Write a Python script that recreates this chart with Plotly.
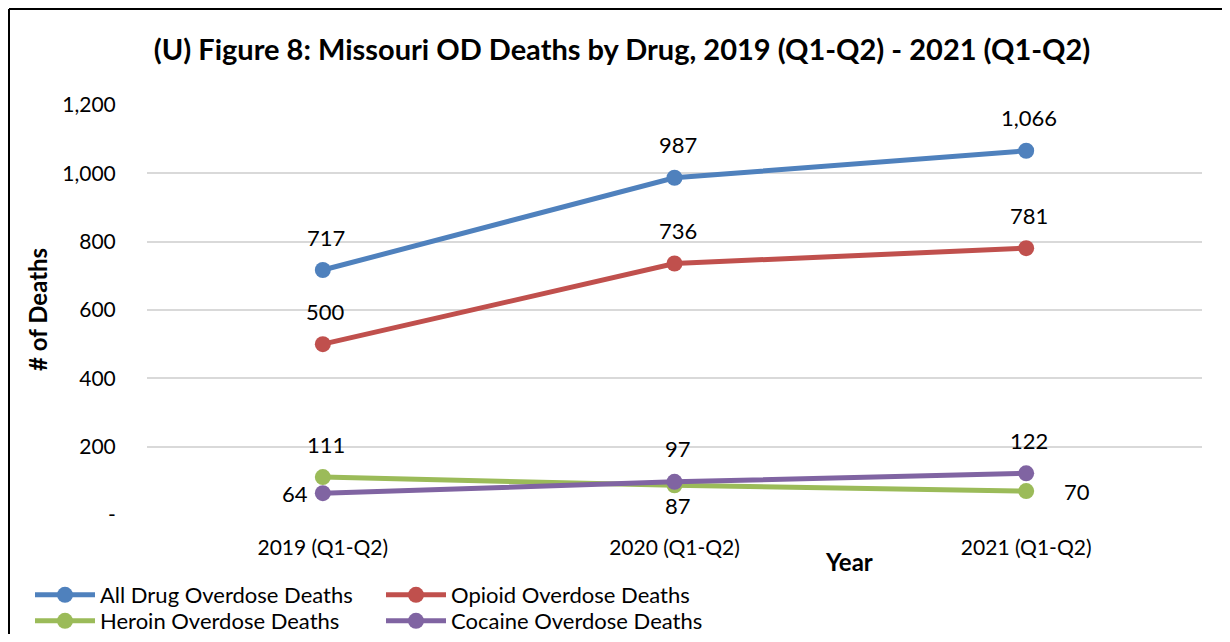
import plotly.graph_objects as go

categories = ["2019 (Q1-Q2)", "2020 (Q1-Q2)", "2021 (Q1-Q2)"]
all_drug = [717, 987, 1066]
opioid = [500, 736, 781]
heroin = [111, 87, 70]
cocaine = [64, 97, 122]

series_names = ["All Drug Overdose Deaths", "Opioid Overdose Deaths",
                "Heroin Overdose Deaths", "Cocaine Overdose Deaths"]
series_values = [all_drug, opioid, heroin, cocaine]
colors = ["#4F81BD", "#C0504D", "#9BBB59", "#8064A2"]
legends = ["legend", "legend", "legend2", "legend2"]
# label placement per point
label_pos = [["above", "above", "above"],
             ["above", "above", "above"],
             ["above", "below", "right"],
             ["left", "above", "above"]]

ytick_vals = [0, 200, 400, 600, 800, 1000, 1200]
ytick_text = ["-", "200", "400", "600", "800", "1,000", "1,200"]

FONT = "Lato"
W, H = 1214, 626
L, R, T, B = 139, 20, 97, 119
pw, ph = W - L - R, H - T - B

def px_x(p):
    return (p - L) / pw

def px_y(p):
    return (H - B - p) / ph

fig = go.Figure()
for i in range(4):
    fig.add_trace(go.Scatter(
        x=categories, y=series_values[i], name=series_names[i],
        mode="lines+markers",
        line=dict(color=colors[i], width=5),
        marker=dict(color=colors[i], size=16),
        legend=legends[i],
    ))

annotations = []
shift = {"above": (0, 33), "below": (0, -20), "left": (-31, 0), "right": (48, 0)}
for i in range(4):
    for j, v in enumerate(series_values[i]):
        dx, dy = shift[label_pos[i][j]]
        annotations.append(dict(
            x=categories[j], y=v, xref="x", yref="y", text=f"{v:,}",
            showarrow=False, xshift=dx + 3, yshift=dy,
            xanchor="center", yanchor="middle",
            font=dict(family=FONT, size=22, color="#000000"),
        ))

annotations.append(dict(text="<b># of Deaths</b>", x=px_x(29), y=px_y(302),
                        xref="paper", yref="paper", showarrow=False, textangle=-90,
                        xanchor="center", yanchor="middle",
                        font=dict(family=FONT, size=24, color="#000000")))
annotations.append(dict(text="<b>Year</b>", x=px_x(841), y=px_y(553),
                        xref="paper", yref="paper", showarrow=False,
                        xanchor="center", yanchor="middle",
                        font=dict(family=FONT, size=24, color="#000000")))

shapes = [
    dict(type="line", xref="paper", yref="paper", x0=px_x(1), x1=px_x(1),
         y0=px_y(1), y1=px_y(700), line=dict(color="#000000", width=2)),
    dict(type="line", xref="paper", yref="paper", x0=px_x(1), x1=px_x(1300),
         y0=px_y(1), y1=px_y(1), line=dict(color="#000000", width=2)),
]

fig.update_layout(
    width=W, height=H,
    margin=dict(l=L, r=R, t=T, b=B, autoexpand=False),
    paper_bgcolor="#FFFFFF", plot_bgcolor="#FFFFFF",
    font=dict(family=FONT, size=21, color="#000000"),
    title=dict(text="<b>(U) Figure 8: Missouri OD Deaths by Drug, 2019 (Q1-Q2) - 2021 (Q1-Q2)</b>",
               x=614 / W, xanchor="center", y=1 - 42 / H, yanchor="middle",
               xref="container", yref="container",
               font=dict(family=FONT, size=29, color="#000000")),
    xaxis=dict(type="category", range=[-0.5, 2.5], showgrid=False, showline=False,
               zeroline=False, ticks="outside", ticklen=14, tickcolor="rgba(0,0,0,0)",
               tickfont=dict(family=FONT, size=21, color="#000000")),
    yaxis=dict(range=[0, 1200], tickvals=ytick_vals, ticktext=ytick_text,
               showgrid=True, gridcolor="#D9D9D9", gridwidth=2, zeroline=False,
               showline=False, ticks="outside", ticklen=26, tickcolor="rgba(0,0,0,0)",
               tickfont=dict(family=FONT, size=21, color="#000000")),
    legend=dict(orientation="h", x=px_x(22), y=px_y(587), xanchor="left", yanchor="middle",
                entrywidth=276, entrywidthmode="pixels", itemwidth=60,
                font=dict(family=FONT, size=22, color="#000000"), bgcolor="rgba(0,0,0,0)"),
    legend2=dict(orientation="h", x=px_x(22), y=px_y(613), xanchor="left", yanchor="middle",
                 entrywidth=276, entrywidthmode="pixels", itemwidth=60,
                 font=dict(family=FONT, size=22, color="#000000"), bgcolor="rgba(0,0,0,0)"),
    annotations=annotations,
    shapes=shapes,
    showlegend=True,
)

fig.write_html("out.html")
